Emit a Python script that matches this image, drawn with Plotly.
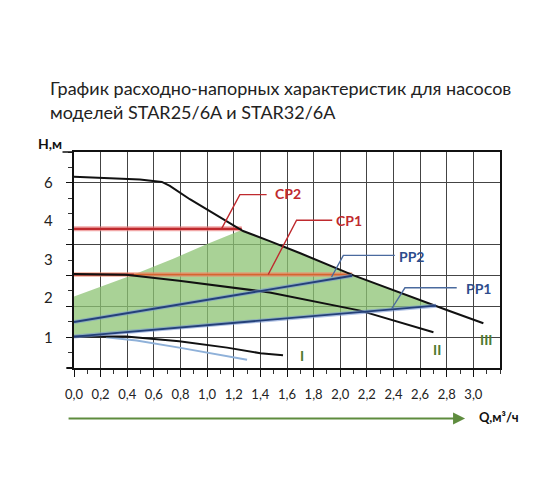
import plotly.graph_objects as go

# Pump curves I, II, III (Q in m3/h, H in grid units)
Q_I = [0.0, 0.39, 0.79, 1.15, 1.40, 1.57]
H_I = [1.02, 1.02, 0.87, 0.66, 0.48, 0.41]
Q_I_LIGHT = [0.24, 0.47, 0.79, 1.10, 1.30]
H_I_LIGHT = [1.0, 0.89, 0.66, 0.43, 0.27]
Q_II = [0.0, 0.39, 0.79, 1.15, 1.40, 1.47, 2.15, 2.70]
H_II = [3.05, 3.02, 2.83, 2.63, 2.48, 2.45, 1.86, 1.16]
Q_III = [0.0, 0.495, 0.66, 0.72, 0.87, 1.10, 1.27, 1.47, 1.70, 2.10, 2.70, 2.80, 3.075]
H_III = [6.2, 6.11, 6.03, 5.9, 5.47, 4.88, 4.44, 4.11, 3.72, 3.0, 2.02, 1.88, 1.45]

# Proportional pressure lines and constant pressure lines
Q_PP1 = [0.0, 2.72]
H_PP1 = [1.02, 2.02]
Q_PP2 = [0.0, 2.09]
H_PP2 = [1.49, 2.99]
Q_CP1 = [0.0, 2.09]
H_CP1 = [3.03, 3.03]
Q_CP2 = [0.0, 1.26]
H_CP2 = [4.51, 4.51]

# Working zone (green)
Q_ZONE = [0.0, 0.0, 0.45, 0.75, 1.0, 1.25, 1.47, 1.70, 2.10, 2.72, 0.0]
H_ZONE = [1.02, 2.32, 3.03, 3.55, 4.02, 4.46, 4.11, 3.72, 3.0, 2.02, 1.02]

# Leader lines for labels
LEAD_CP2 = ([1.108, 1.246, 1.447], [4.51, 5.62, 5.62])
LEAD_CP1 = ([1.459, 1.672, 1.94], [3.03, 4.79, 4.79])
LEAD_PP2 = ([1.935, 2.023, 2.41], [2.95, 3.65, 3.65])
LEAD_PP1 = ([2.386, 2.486, 2.875], [1.92, 2.6, 2.6])

X_TICKS = [round(0.2 * i, 1) for i in range(16)]
X_TEXT = ['{:.1f}'.format(v).replace('.', ',') for v in X_TICKS]
Y_GRID = [1, 2, 3, 4, 6]
Y_LBL_POS = [6.02, 4.79, 3.52, 2.29, 1.0, -0.24]
Y_LBL_TXT = ['6', '4', '3', '2', '1', '0']

RED = '#bf2a2e'
BLUE = '#2d4c8c'
GREEN_TXT = '#4f7a2e'
FONT = 'Lato'

fig = go.Figure()
fig.add_trace(go.Scatter(
    x=Q_ZONE, y=H_ZONE, fill='toself', mode='none',
    fillcolor='rgba(140,195,115,0.75)'
))
# CP lines (pale halo + core)
fig.add_trace(go.Scatter(x=Q_CP2, y=H_CP2, mode='lines',
                         line=dict(color='rgba(235,130,130,0.7)', width=5)))
fig.add_trace(go.Scatter(x=Q_CP2, y=H_CP2, mode='lines',
                         line=dict(color=RED, width=2.2)))
fig.add_trace(go.Scatter(x=Q_CP1, y=H_CP1, mode='lines',
                         line=dict(color='rgba(240,140,110,0.7)', width=4.5)))
fig.add_trace(go.Scatter(x=Q_CP1[:1] + [0.45], y=H_CP1, mode='lines',
                         line=dict(color='#b52a28', width=2)))
fig.add_trace(go.Scatter(x=[0.45] + Q_CP1[1:], y=H_CP1, mode='lines',
                         line=dict(color='#d9632f', width=1.6)))
# pump curves
fig.add_trace(go.Scatter(x=Q_I_LIGHT, y=H_I_LIGHT, mode='lines',
                         line=dict(color='#8fb1d9', width=2)))
for (q, h) in ((Q_I, H_I), (Q_II, H_II), (Q_III, H_III)):
    fig.add_trace(go.Scatter(x=q, y=h, mode='lines',
                             line=dict(color='#111111', width=2)))
for (q, h) in ((Q_PP1, H_PP1), (Q_PP2, H_PP2)):
    fig.add_trace(go.Scatter(x=q, y=h, mode='lines',
                             line=dict(color='rgba(120,150,210,0.6)', width=4)))
    fig.add_trace(go.Scatter(x=q, y=h, mode='lines',
                             line=dict(color='#24407a', width=1.8)))
# leaders
for (lead, col) in ((LEAD_CP2, RED), (LEAD_CP1, RED),
                    (LEAD_PP2, '#4a6a9e'), (LEAD_PP1, '#4a6a9e')):
    fig.add_trace(go.Scatter(x=lead[0], y=lead[1], mode='lines',
                             line=dict(color=col, width=1.4)))

# labels ----------------------------------------------------------------------
labels = [
    ('CP2', 1.607, 5.66, RED), ('CP1', 2.065, 4.79, RED),
    ('PP2', 2.537, 3.6, BLUE), ('PP1', 3.037, 2.57, BLUE),
    ('I', 1.714, 0.41, GREEN_TXT), ('II', 2.725, 0.6, GREEN_TXT),
    ('III', 3.095, 0.92, GREEN_TXT),
]
for (t, x, y, c) in labels:
    fig.add_annotation(x=x, y=y, text='<b>{}</b>'.format(t), showarrow=False,
                       xanchor='center', yanchor='middle',
                       font=dict(family=FONT, size=14, color=c))
for (p, t) in zip(Y_LBL_POS, Y_LBL_TXT):
    fig.add_annotation(x=-0.061, y=p, xref='paper', text=t, showarrow=False,
                       xanchor='center', yanchor='middle',
                       font=dict(family=FONT, size=15, color='#222222'))
fig.add_annotation(x=-0.056, y=1.04, xref='paper', yref='paper',
                   text='<b>Н,м</b>', showarrow=False,
                   xanchor='center', yanchor='middle',
                   font=dict(family=FONT, size=14, color='#111111'))
fig.add_annotation(x=0.945, y=-0.227, xref='paper', yref='paper',
                   xanchor='left', yanchor='middle',
                   text='<b>Q,м³/ч</b>', showarrow=False,
                   font=dict(family=FONT, size=13, color='#111111'))
fig.add_annotation(x=0.918, y=-0.234, xref='paper', yref='paper',
                   ax=-398, ay=0, text='', showarrow=True,
                   arrowhead=2, arrowsize=1.2, arrowwidth=2,
                   arrowcolor='#5e8c3e')
fig.add_annotation(x=-0.062, y=1.295, xref='paper', yref='paper',
                   xanchor='left', yanchor='middle', showarrow=False,
                   text=' '.join(['График', 'расходно-напорных',
                                  'характеристик', 'для', 'насосов']),
                   font=dict(family=FONT, size=18, color='#222222'))
fig.add_annotation(x=-0.062, y=1.184, xref='paper', yref='paper',
                   xanchor='left', yanchor='middle', showarrow=False,
                   text='моделей STAR25/6A и STAR32/6A',
                   font=dict(family=FONT, size=18, color='#222222'))
# axis line extensions
fig.add_shape(type='line', xref='paper', yref='paper', x0=-0.027, x1=0,
              y0=1, y1=1, line=dict(color='#111111', width=1.5))
fig.add_shape(type='line', xref='paper', yref='paper', x0=-0.018, x1=0,
              y0=0, y1=0, line=dict(color='#111111', width=2))

# page body has an 8px margin, so the figure is shrunk by that amount
fig.update_layout(
    width=552, height=496,
    margin=dict(l=66, r=60, t=144, b=136),
    plot_bgcolor='white', paper_bgcolor='white',
    showlegend=False,
    font=dict(family=FONT),
)
fig.update_xaxes(
    range=[0, 3.2], tickvals=X_TICKS, ticktext=X_TEXT,
    showgrid=True, gridcolor='#444444', gridwidth=1,
    showline=True, linecolor='#111111', linewidth=2, mirror=True,
    ticks='outside', ticklen=7, tickcolor='#111111',
    minor=dict(dtick=0.1, ticks='outside', ticklen=4, tickcolor='#333333',
               showgrid=False),
    ticklabelstandoff=6,
    tickfont=dict(family=FONT, size=13, color='#222222'),
    zeroline=False,
)
fig.update_yaxes(
    range=[0, 7], tickvals=Y_GRID, showticklabels=False,
    showgrid=True, gridcolor='#444444', gridwidth=1,
    showline=True, linecolor='#111111', linewidth=1.5, mirror=True,
    ticks='outside', ticklen=6, tickcolor='#111111',
    minor=dict(dtick=0.5, ticks='outside', ticklen=4, tickcolor='#333333',
               showgrid=False),
    zeroline=False,
)
fig.write_html('out.html')
